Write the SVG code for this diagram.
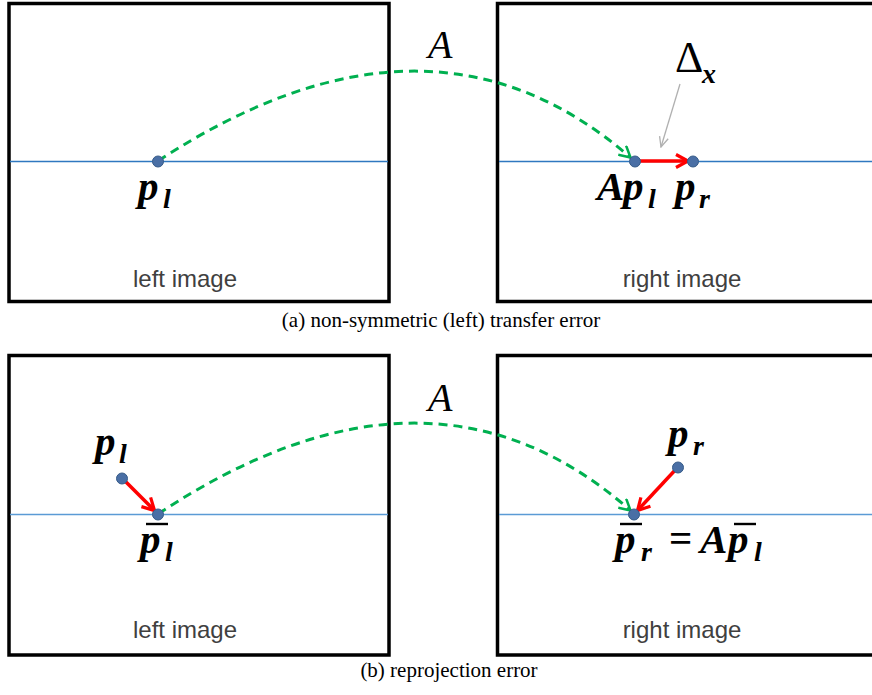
<svg xmlns="http://www.w3.org/2000/svg" width="872" height="695" viewBox="0 0 872 695">
<style>
.box{fill:#fff;stroke:#000;stroke-width:3.5}
.epi1{stroke:#2f78c0;stroke-width:1.3}
.epi2{stroke:#5b9bd5;stroke-width:1.5}
.green{fill:none;stroke:#00b050;stroke-width:3;stroke-dasharray:9 6}
.red{fill:none;stroke:#ff0000;stroke-width:3.5}
.grey{fill:none;stroke:#b0b0b0;stroke-width:1.3}
.dot{fill:#4a6fa5;stroke:#385d8a;stroke-width:1}
.cap{font-family:"Liberation Sans",Arial,sans-serif;font-size:24px;fill:#404040;text-anchor:middle}
.fig{font-family:"Liberation Serif","Times New Roman",serif;font-size:21px;fill:#000;text-anchor:middle}
.m{font-family:"Liberation Serif","Times New Roman",serif;font-style:italic;font-weight:bold;font-size:41px;fill:#000}
.s{font-family:"Liberation Serif","Times New Roman",serif;font-style:italic;font-weight:bold;font-size:28px;fill:#000}
.bigA{font-family:"Liberation Serif","Times New Roman",serif;font-style:italic;font-size:40px;fill:#000}
.eq{font-family:"Liberation Serif","Times New Roman",serif;font-weight:bold;font-size:41px;fill:#000}
.bar{stroke:#000;stroke-width:2.4}
</style>
<defs>
<marker id="gh" markerUnits="userSpaceOnUse" markerWidth="14" markerHeight="14" refX="12" refY="7" orient="auto" viewBox="0 0 14 14">
<path d="M1,1 L12,7 L1,13" fill="none" stroke="#00b050" stroke-width="2.5"/>
</marker>
<marker id="rh" markerUnits="userSpaceOnUse" markerWidth="16" markerHeight="16" refX="14" refY="8" orient="auto" viewBox="0 0 16 16">
<path d="M2,1.5 L14,8 L2,14.5" fill="none" stroke="#ff0000" stroke-width="3.2"/>
</marker>
<marker id="kh" markerUnits="userSpaceOnUse" markerWidth="12" markerHeight="12" refX="11" refY="6" orient="auto" viewBox="0 0 12 12">
<path d="M1,1.5 L11,6 L1,10.5" fill="none" stroke="#b0b0b0" stroke-width="1.3"/>
</marker>
</defs>
<rect width="872" height="695" fill="#fff"/>

<g id="panel-a-left">
<rect class="box" x="9" y="3.5" width="380" height="298"/>
<line class="epi1" x1="10" y1="161.5" x2="388" y2="161.5"/>
<text class="cap" x="185" y="287">left image</text>
</g>
<g id="panel-a-right">
<rect class="box" x="497.5" y="3.5" width="380" height="298"/>
<line class="epi1" x1="499" y1="161.5" x2="872" y2="161.5"/>
<text class="cap" x="682" y="287">right image</text>
</g>
<text class="fig" x="441" y="327">(a) non-symmetric (left) transfer error</text>

<g id="panel-b-left">
<rect class="box" x="9" y="355.5" width="380" height="299.5"/>
<line class="epi2" x1="10" y1="514.5" x2="388" y2="514.5"/>
<text class="cap" x="185" y="638">left image</text>
</g>
<g id="panel-b-right">
<rect class="box" x="497.5" y="355.5" width="380" height="299.5"/>
<line class="epi2" x1="499" y1="514.5" x2="872" y2="514.5"/>
<text class="cap" x="682" y="638">right image</text>
</g>
<text class="fig" x="449" y="677">(b) reprojection error</text>

<g id="connectors">
<path class="green" d="M158,161 Q430,-17 630.5,157.5" marker-end="url(#gh)"/>
<path class="green" d="M158,514 Q430,334 630.5,510.5" marker-end="url(#gh)"/>
<line class="red" x1="636" y1="161" x2="688" y2="161" marker-end="url(#rh)"/>
<line class="red" x1="122" y1="478" x2="154.5" y2="510.5" marker-end="url(#rh)"/>
<line class="red" x1="678" y1="467" x2="637.5" y2="510.5" marker-end="url(#rh)"/>
<line class="grey" x1="680" y1="84" x2="661" y2="147" marker-end="url(#kh)"/>
</g>

<g id="label-A-top"><text class="bigA" x="428" y="58">A</text></g>
<g id="label-A-bottom"><text class="bigA" x="428" y="411">A</text></g>

<g id="node-pl-a">
<circle class="dot" cx="158" cy="161.5" r="5.5"/>
<text class="m" x="138" y="200">p</text><text class="s" x="163" y="208">l</text>
</g>
<g id="node-Apl-a">
<circle class="dot" cx="635" cy="161.5" r="5.5"/>
<text class="m" x="597" y="200">A</text><text class="m" x="623" y="200">p</text><text class="s" x="648" y="208">l</text>
</g>
<g id="node-pr-a">
<circle class="dot" cx="693" cy="161.5" r="5.5"/>
<text class="m" x="675" y="200">p</text><text class="s" x="699" y="208">r</text>
</g>
<g id="label-delta">
<text x="675" y="72" font-family="'Liberation Serif','Times New Roman',serif" font-size="44" fill="#000">Δ</text>
<text class="s" x="702" y="83">x</text>
</g>

<g id="node-pl-b">
<circle class="dot" cx="122" cy="478.5" r="5.5"/>
<text class="m" x="95" y="455">p</text><text class="s" x="119" y="463">l</text>
</g>
<g id="node-plbar-b">
<circle class="dot" cx="158" cy="514.5" r="5.5"/>
<line class="bar" x1="146" y1="524" x2="168" y2="524"/>
<text class="m" x="140" y="553">p</text><text class="s" x="165" y="561">l</text>
</g>
<g id="node-pr-b">
<circle class="dot" cx="678" cy="467.5" r="5.5"/>
<text class="m" x="668" y="447">p</text><text class="s" x="693" y="455">r</text>
</g>
<g id="node-prbar-b">
<circle class="dot" cx="634" cy="514.5" r="5.5"/>
<line class="bar" x1="620" y1="524" x2="642" y2="524"/>
<text class="m" x="615" y="553">p</text><text class="s" x="641" y="561">r</text>
<text class="eq" x="669" y="552">=</text>
<text class="m" x="700" y="553">A</text>
<line class="bar" x1="734" y1="524" x2="756" y2="524"/>
<text class="m" x="728" y="553">p</text><text class="s" x="754" y="561">l</text>
</g>
</svg>
